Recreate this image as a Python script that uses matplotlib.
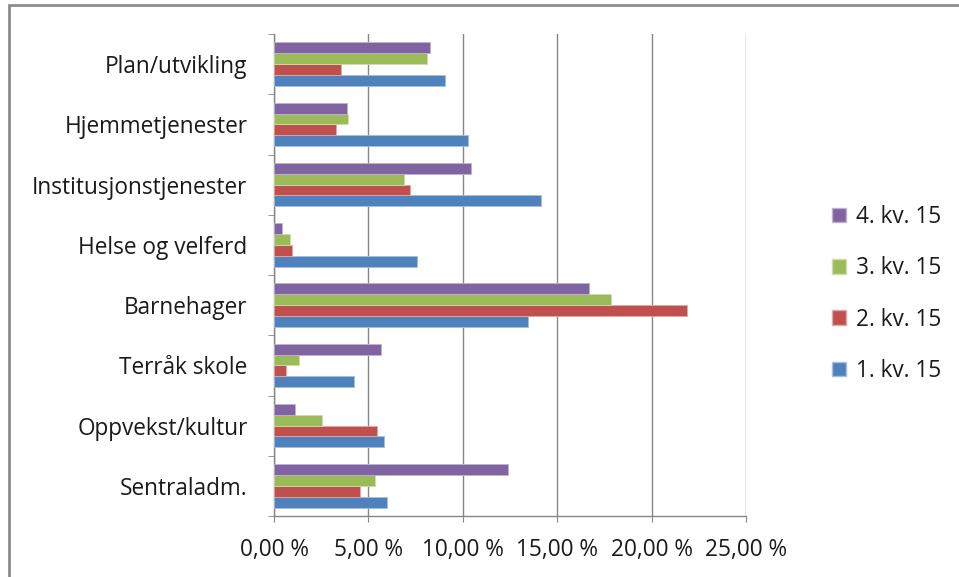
import matplotlib.pyplot as plt
import numpy as np
from matplotlib.patches import Patch, Rectangle
from matplotlib.ticker import FuncFormatter

# categories from bottom to top
categories = ['Sentraladm.', 'Oppvekst/kultur', 'Terråk skole', 'Barnehager',
              'Helse og velferd', 'Institusjonstjenester', 'Hjemmetjenester',
              'Plan/utvikling']
series_names = ['1. kv. 15', '2. kv. 15', '3. kv. 15', '4. kv. 15']
q1 = [5.99, 5.85, 4.23, 13.44, 7.58, 14.12, 10.26, 9.05]
q2 = [4.56, 5.44, 0.63, 21.90, 0.96, 7.18, 3.26, 3.54]
q3 = [5.37, 2.54, 1.30, 17.85, 0.84, 6.89, 3.93, 8.12]
q4 = [12.42, 1.11, 5.66, 16.69, 0.42, 10.42, 3.86, 8.26]
colors = ['#4F81BD', '#C0504D', '#9BBB59', '#8064A2']
edges = ['#a7c0de', '#e0a8a6', '#cddcac', '#bfb1d0']

plt.rcParams['font.family'] = ['Open Sans', 'DejaVu Sans']
fs = 16.3

fig = plt.figure(figsize=(9.59, 5.77), dpi=100)
ax = fig.add_axes([274 / 959, 1 - 516 / 577, 472 / 959, 482 / 577])

y = np.arange(len(categories))
h = 0.18
for i, vals in enumerate([q1, q2, q3, q4]):
    ax.barh(y + (i - 1.5) * h, vals, height=h, color=colors[i],
            edgecolor=edges[i], linewidth=0.6, zorder=3)

ax.set_xlim(0, 25)
ax.set_ylim(-0.5, len(categories) - 0.5)
ax.set_xticks([0, 5, 10, 15, 20, 25])
ax.xaxis.set_major_formatter(FuncFormatter(lambda v, p: f'{v:.2f} %'.replace('.', ',')))
ax.grid(axis='x', color='#868686', linewidth=1.0, zorder=0)
ax.set_yticks(y)
ax.set_yticklabels(categories)
ax.set_yticks(np.arange(-0.5, len(categories), 1), minor=True)

for s in ['top', 'right']:
    ax.spines[s].set_visible(False)
for s in ['left', 'bottom']:
    ax.spines[s].set_color('#868686')
    ax.spines[s].set_linewidth(1.0)

ax.tick_params(axis='y', which='major', length=0, pad=19, labelsize=fs, labelcolor='#1a1a1a')
ax.tick_params(axis='y', which='minor', length=4, color='#868686', direction='out')
ax.tick_params(axis='x', which='major', length=4, color='#868686', pad=12,
               labelsize=fs, labelcolor='#1a1a1a')

handles = [Patch(facecolor=colors[i], edgecolor=edges[i]) for i in range(3, -1, -1)]
labels = [series_names[i] for i in range(3, -1, -1)]
fig.legend(handles, labels, loc='center left', bbox_to_anchor=(812 / 959, 1 - 294 / 577),
           frameon=False, fontsize=fs, labelspacing=1.2, handlelength=0.6,
           handleheight=0.6, handletextpad=0.45, labelcolor='#1a1a1a')

# chart area border
fig.patches.append(Rectangle((9 / 959, -0.1), 2.0, (577 - 5) / 577 + 0.1,
                             transform=fig.transFigure, fill=False,
                             edgecolor='#8c8c8c', linewidth=2.0))

fig.savefig('out.png', dpi=100)
